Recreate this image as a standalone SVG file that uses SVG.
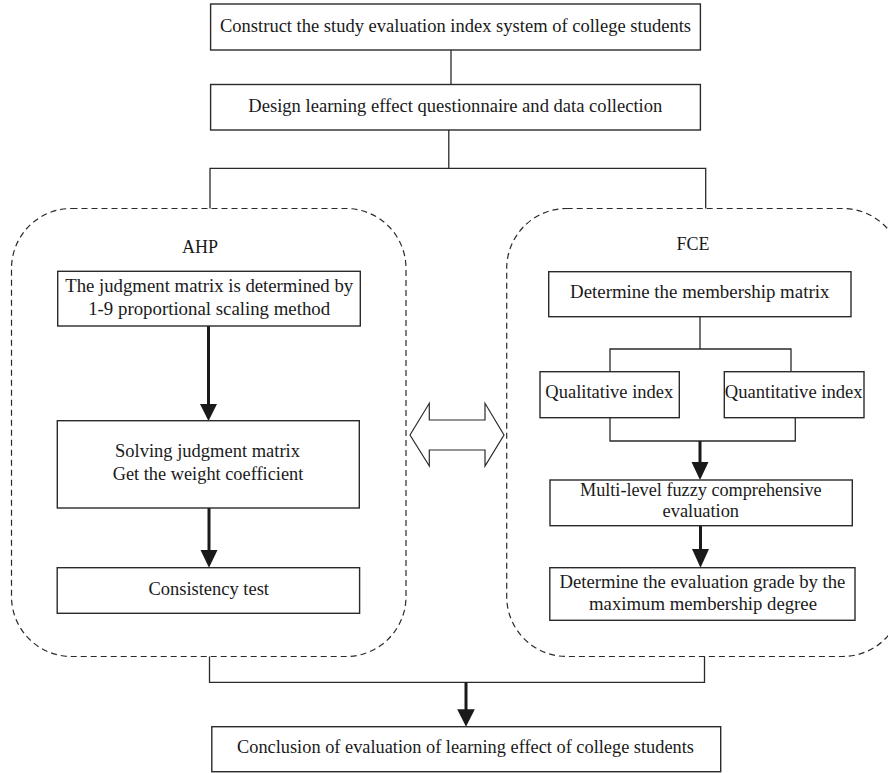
<svg xmlns="http://www.w3.org/2000/svg" width="888" height="773" viewBox="0 0 888 773">
<style>
.box{fill:#fff;stroke:#2a2a2a;stroke-width:1.4}
.grp{fill:none;stroke:#2a2a2a;stroke-width:1.2;stroke-dasharray:6 4}
.t{font-family:"Liberation Serif","Times New Roman",serif;font-size:18px;fill:#1a1a1a;text-anchor:middle}
.ln{fill:none;stroke:#2a2a2a;stroke-width:1.3}
.thick{fill:none;stroke:#1a1a1a;stroke-width:3}
.head{fill:#1a1a1a;stroke:none}
.dbl{fill:#fff;stroke:#2a2a2a;stroke-width:1.2}
</style>
<rect width="888" height="773" fill="#fff"/>
<g id="groups">
<rect id="ahp-group" class="grp" x="11.5" y="208.5" width="394.5" height="448" rx="60" ry="60"/>
<rect id="fce-group" class="grp" x="506.7" y="208.5" width="396" height="448" rx="60" ry="60"/>
<text class="t" x="200" y="253">AHP</text>
<text class="t" x="693" y="250">FCE</text>
</g>
<g id="connectors">
<path class="ln" d="M451 50V84.5"/>
<path class="ln" d="M448.8 130V168.3M210 208.5V168.3H705.7V208.5"/>
<path class="ln" d="M700 316.7V349M610 371.7V349H791V371.7"/>
<path class="ln" d="M610 417.7V441H795.3V417.7"/>
<path class="ln" d="M209.5 656.5V682.3H704.5V656.5"/>
<path class="thick" d="M208.5 326V406"/>
<polygon class="head" points="200,404 217,404 208.5,421"/>
<path class="thick" d="M209 508V552"/>
<polygon class="head" points="200.5,550 217.5,550 209,567.7"/>
<path class="thick" d="M700 441V464"/>
<polygon class="head" points="691.5,462 708.5,462 700,480"/>
<path class="thick" d="M700.5 525.7V551"/>
<polygon class="head" points="692,549 709,549 700.5,567.7"/>
<path class="thick" d="M466 682.3V711"/>
<polygon class="head" points="457.2,709.3 474.8,709.3 466,726.7"/>
<polygon id="double-arrow" class="dbl" points="410,435 429.3,403.3 429.3,420 485,420 485,403.3 504,435 485,466 485,450 429.3,450 429.3,466"/>
</g>
<g id="n1">
<rect class="box" x="210.6" y="4" width="489.8" height="46"/>
<text class="t" x="455.5" y="32" textLength="471" lengthAdjust="spacingAndGlyphs">Construct the study evaluation index system of college students</text>
</g>
<g id="n2">
<rect class="box" x="210.6" y="84.5" width="489.8" height="45.5"/>
<text class="t" x="455.3" y="112" textLength="414" lengthAdjust="spacingAndGlyphs">Design learning effect questionnaire and data collection</text>
</g>
<g id="ahp1">
<rect class="box" x="57.7" y="271.3" width="302.6" height="54.7"/>
<text class="t" x="209.2" y="292" textLength="288" lengthAdjust="spacingAndGlyphs">The judgment matrix is determined by</text>
<text class="t" x="209.2" y="314.5" textLength="242" lengthAdjust="spacingAndGlyphs">1-9 proportional scaling method</text>
</g>
<g id="ahp2">
<rect class="box" x="57.3" y="420.7" width="302" height="87.3"/>
<text class="t" x="207.5" y="456.7" textLength="185" lengthAdjust="spacingAndGlyphs">Solving judgment matrix</text>
<text class="t" x="208" y="480" textLength="190.6" lengthAdjust="spacingAndGlyphs">Get the weight coefficient</text>
</g>
<g id="ahp3">
<rect class="box" x="57.2" y="567.7" width="302.4" height="45.6"/>
<text class="t" x="208.7" y="595" textLength="120.6" lengthAdjust="spacingAndGlyphs">Consistency test</text>
</g>
<g id="fce1">
<rect class="box" x="548.7" y="271.7" width="302.3" height="45"/>
<text class="t" x="699.7" y="298.3" textLength="259.3" lengthAdjust="spacingAndGlyphs">Determine the membership matrix</text>
</g>
<g id="fce-qual">
<rect class="box" x="540" y="371.7" width="139.3" height="46"/>
<text class="t" x="609.3" y="398.3" textLength="128" lengthAdjust="spacingAndGlyphs">Qualitative index</text>
</g>
<g id="fce-quant">
<rect class="box" x="724.3" y="371.7" width="139.7" height="46"/>
<text class="t" x="793.7" y="398.3" textLength="138" lengthAdjust="spacingAndGlyphs">Quantitative index</text>
</g>
<g id="fce2">
<rect class="box" x="550" y="480" width="302.3" height="45.7"/>
<text class="t" x="700.8" y="495.5" textLength="241.7" lengthAdjust="spacingAndGlyphs">Multi-level fuzzy comprehensive</text>
<text class="t" x="700.8" y="517" textLength="76.5" lengthAdjust="spacingAndGlyphs">evaluation</text>
</g>
<g id="fce3">
<rect class="box" x="549.8" y="567.7" width="305.2" height="52.6"/>
<text class="t" x="702.4" y="587.5" textLength="286" lengthAdjust="spacingAndGlyphs">Determine the evaluation grade by the</text>
<text class="t" x="703" y="609.5" textLength="228" lengthAdjust="spacingAndGlyphs">maximum membership degree</text>
</g>
<g id="n-final">
<rect class="box" x="211.8" y="726.7" width="508.9" height="45"/>
<text class="t" x="465.5" y="753.3" textLength="457" lengthAdjust="spacingAndGlyphs">Conclusion of evaluation of learning effect of college students</text>
</g>
</svg>
